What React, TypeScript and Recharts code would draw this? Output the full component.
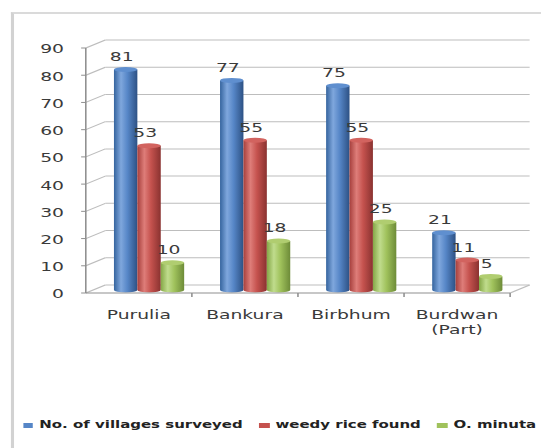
import { BarChart, Bar, XAxis, YAxis, CartesianGrid, LabelList } from "recharts";

const districts = ["Purulia", "Bankura", "Birbhum", "Burdwan (Part)"];
const villagesSurveyed = [81, 77, 75, 21];
const weedyRiceFound = [53, 55, 55, 11];
const oMinuta = [10, 18, 25, 5];
const yTicks = [0, 10, 20, 30, 40, 50, 60, 70, 80, 90];

const seriesNames = {
  villages: "No. of villages surveyed",
  weedy: "weedy rice found",
  minuta: "O. minuta",
};

const data = districts.map((district, i) => ({
  district,
  villages: villagesSurveyed[i],
  weedy: weedyRiceFound[i],
  minuta: oMinuta[i],
}));

// the old office chart is drawn narrow and then stretched sideways
const STRETCH = 1.56;
const W = 347;
const H = 448;
const MARGIN = { top: 48, right: 20, bottom: 115, left: 0 };
const Y_AXIS_W = 55;
const PLOT_W = W - MARGIN.left - MARGIN.right - Y_AXIS_W;
const BAND = PLOT_W / districts.length;
// depth of the fake 3D wall / floor
const DEPTH_X = 12.5;
const DEPTH_Y = 8;
const BAR_SHIFT_X = 6.8;
const BAR_SHIFT_Y = -3;

const FONT = "'DejaVu Sans', Verdana, sans-serif";
const TEXT = "#3a3a3a";
const GRID = "#bdbdbd";
const AXIS = "#8f8f8f";

const palette = {
  villages: { id: "gBlue", stops: ["#35649e", "#7fa7dd", "#5686c7", "#2d5184"], cap: "#5f8fcf" },
  weedy: { id: "gRed", stops: ["#a63f3c", "#de7d79", "#c5524e", "#8a3230"], cap: "#d2635f" },
  minuta: { id: "gGreen", stops: ["#84a746", "#c0dc8d", "#a0c25c", "#6d8b38"], cap: "#b0cd70" },
};

type Key = keyof typeof palette;

const cylinder = (k: Key) => (props: any) => {
  const { x, y, width, height } = props;
  if (!height || height <= 0) return <g />;
  const left = x + BAR_SHIFT_X;
  const top = y + BAR_SHIFT_Y;
  const bottom = y + height + BAR_SHIFT_Y;
  const rx = width / 2;
  const ry = 2.5;
  const body = `M${left},${top} L${left},${bottom} A${rx},${ry} 0 0 0 ${left + width},${bottom} L${left + width},${top} Z`;
  return (
    <g>
      <path d={body} fill={`url(#${palette[k].id})`} />
      <ellipse cx={left + rx} cy={top} rx={rx} ry={ry} fill={palette[k].cap} />
    </g>
  );
};

const valueLabel = (props: any) => {
  const { x, y, width, value } = props;
  return (
    <text
      x={Number(x) + Number(width) / 2 + BAR_SHIFT_X - 2.5}
      y={Number(y) - 11.5}
      textAnchor="middle"
      fontSize={12}
      fontFamily={FONT}
      fill={TEXT}
    >
      {value}
    </text>
  );
};

const gridRow = (p: any) => {
  const { x1, x2, y1, key } = p;
  const isFloor = Math.abs(y1 - (p.y + p.height)) < 0.5;
  const by = y1 - DEPTH_Y;
  return (
    <g key={key}>
      <line x1={x1} y1={y1} x2={x1 + DEPTH_X} y2={by} stroke={GRID} />
      <line x1={x1 + DEPTH_X} y1={by} x2={x2 + DEPTH_X} y2={by} stroke={GRID} />
      {isFloor && <line x1={x2} y1={y1} x2={x2 + DEPTH_X} y2={by} stroke={GRID} />}
    </g>
  );
};

const YTick = (props: any) => {
  const { x, y, payload } = props;
  return (
    <text x={x} y={y + 5.5} textAnchor="end" fontSize={12} fontFamily={FONT} fill={TEXT}>
      {payload.value}
    </text>
  );
};

const XTick = (props: any) => {
  const { x, y, payload } = props;
  const label: string = payload.value;
  const cut = label.indexOf(" (");
  const lines = cut > 0 ? [label.slice(0, cut), label.slice(cut + 1)] : [label];
  return (
    <g>
      <line x1={x + BAND / 2} y1={y} x2={x + BAND / 2} y2={y + 4} stroke={AXIS} />
      {lines.map((line, i) => (
        <text
          key={line}
          x={x}
          y={y + 26.5 + i * 14.5}
          textAnchor="middle"
          fontSize={12}
          fontFamily={FONT}
          fill={TEXT}
        >
          {line}
        </text>
      ))}
    </g>
  );
};

const legendKeys: Key[] = ["villages", "weedy", "minuta"];

export default function App() {
  return (
    <div
      style={{
        position: "fixed",
        left: 0,
        top: 0,
        width: W,
        height: H,
        overflow: "hidden",
        background: "#fff",
        transform: `scaleX(${STRETCH})`,
        transformOrigin: "0 0",
      }}
    >
      <div
        style={{
          position: "absolute",
          left: 6.7,
          top: 12,
          width: 400,
          height: 500,
          borderLeft: "2px solid #d2d2d2",
          borderTop: "2px solid #dadada",
        }}
      />
      <div style={{ position: "absolute", left: 0, top: 0 }}>
        <BarChart width={W} height={H} data={data} margin={MARGIN} barGap={0} barCategoryGap={11.25}>
          <defs>
            {legendKeys.map((k) => (
              <linearGradient key={k} id={palette[k].id} x1="0" y1="0" x2="1" y2="0">
                <stop offset="0%" stopColor={palette[k].stops[0]} />
                <stop offset="30%" stopColor={palette[k].stops[1]} />
                <stop offset="58%" stopColor={palette[k].stops[2]} />
                <stop offset="100%" stopColor={palette[k].stops[3]} />
              </linearGradient>
            ))}
          </defs>
          <CartesianGrid vertical={false} horizontal={gridRow} />
          <XAxis
            dataKey="district"
            axisLine={{ stroke: AXIS }}
            tickLine={false}
            tickSize={0}
            tickMargin={0}
            interval={0}
            height={40}
            tick={<XTick />}
          />
          <YAxis
            domain={[0, 90]}
            ticks={yTicks}
            width={Y_AXIS_W}
            axisLine={{ stroke: AXIS }}
            tickLine={{ stroke: AXIS }}
            tickSize={3}
            tickMargin={11}
            tick={<YTick />}
          />
          {legendKeys.map((k) => (
            <Bar key={k} dataKey={k} name={seriesNames[k]} shape={cylinder(k)} isAnimationActive={false}>
              <LabelList dataKey={k} content={valueLabel} />
            </Bar>
          ))}
        </BarChart>
      </div>
      <div
        style={{
          position: "absolute",
          left: 14.7,
          top: 419,
          display: "flex",
          alignItems: "center",
          gap: 10.5,
          fontFamily: FONT,
          fontSize: 9.6,
          fontWeight: "bold",
          color: "#222",
          whiteSpace: "nowrap",
          lineHeight: "12px",
        }}
      >
        {legendKeys.map((k) => (
          <span key={k} style={{ display: "flex", alignItems: "center" }}>
            <span
              style={{
                display: "inline-block",
                width: 6.5,
                height: 5,
                background: palette[k].stops[2],
                marginRight: 4,
              }}
            />
            {seriesNames[k]}
          </span>
        ))}
      </div>
    </div>
  );
}
